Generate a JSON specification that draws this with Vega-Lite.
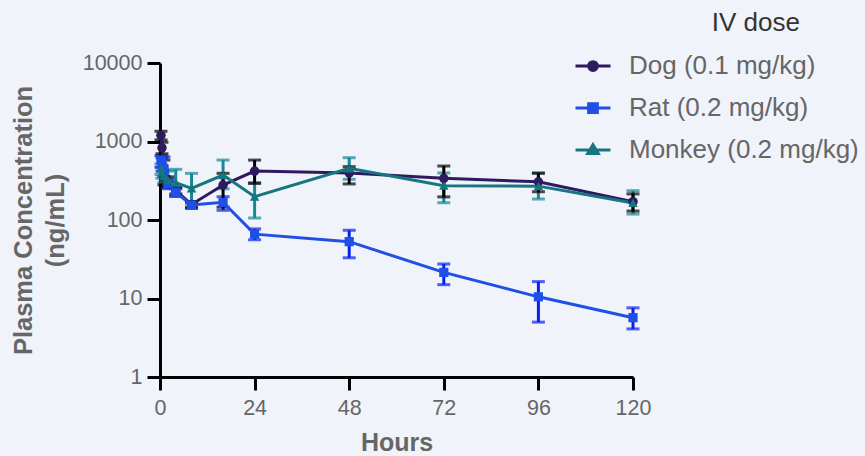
{
  "$schema": "https://vega.github.io/schema/vega-lite/v6.json",
  "width": 473,
  "height": 314,
  "autosize": "none",
  "padding": {"left": 160, "top": 63, "right": 232, "bottom": 79},
  "config": {
    "background": "#F0F3FA",
    "view": {"stroke": null},
    "font": "Liberation Sans"
  },
  "title": {"text": "IV dose", "anchor": "end", "frame": "group", "dx": 167, "fontSize": 26, "fontWeight": "normal", "color": "#333333", "offset": 11, "font": "Liberation Sans"},
  "data": {
    "values": [
      {"series": "Dog (0.1 mg/kg)", "t": 0.25, "c": 1200, "lo": 1050, "hi": 1350},
      {"series": "Dog (0.1 mg/kg)", "t": 0.5, "c": 830, "lo": 700, "hi": 980},
      {"series": "Dog (0.1 mg/kg)", "t": 1, "c": 440, "lo": 280, "hi": 580},
      {"series": "Dog (0.1 mg/kg)", "t": 2, "c": 307, "lo": 265, "hi": 355},
      {"series": "Dog (0.1 mg/kg)", "t": 4, "c": 236, "lo": 215, "hi": 260},
      {"series": "Dog (0.1 mg/kg)", "t": 8, "c": 158, "lo": 145, "hi": 172},
      {"series": "Dog (0.1 mg/kg)", "t": 16, "c": 279, "lo": 146, "hi": 393},
      {"series": "Dog (0.1 mg/kg)", "t": 24, "c": 420, "lo": 292, "hi": 580},
      {"series": "Dog (0.1 mg/kg)", "t": 48, "c": 397, "lo": 288, "hi": 478},
      {"series": "Dog (0.1 mg/kg)", "t": 72, "c": 340, "lo": 197, "hi": 487},
      {"series": "Dog (0.1 mg/kg)", "t": 96, "c": 307, "lo": 229, "hi": 394},
      {"series": "Dog (0.1 mg/kg)", "t": 120, "c": 171, "lo": 130, "hi": 215},
      {"series": "Rat (0.2 mg/kg)", "t": 0.25, "c": 580, "lo": 470, "hi": 660},
      {"series": "Rat (0.2 mg/kg)", "t": 0.5, "c": 520, "lo": 420, "hi": 620},
      {"series": "Rat (0.2 mg/kg)", "t": 1, "c": 450, "lo": 360, "hi": 640},
      {"series": "Rat (0.2 mg/kg)", "t": 2, "c": 290, "lo": 250, "hi": 330},
      {"series": "Rat (0.2 mg/kg)", "t": 4, "c": 225, "lo": 200, "hi": 250},
      {"series": "Rat (0.2 mg/kg)", "t": 8, "c": 155, "lo": 140, "hi": 170},
      {"series": "Rat (0.2 mg/kg)", "t": 16, "c": 168, "lo": 133, "hi": 198},
      {"series": "Rat (0.2 mg/kg)", "t": 24, "c": 66, "lo": 56, "hi": 77},
      {"series": "Rat (0.2 mg/kg)", "t": 48, "c": 53, "lo": 33, "hi": 74},
      {"series": "Rat (0.2 mg/kg)", "t": 72, "c": 21.5, "lo": 15, "hi": 27.5},
      {"series": "Rat (0.2 mg/kg)", "t": 96, "c": 10.5, "lo": 5, "hi": 16.4},
      {"series": "Rat (0.2 mg/kg)", "t": 120, "c": 5.7, "lo": 4.1, "hi": 7.6},
      {"series": "Monkey (0.2 mg/kg)", "t": 0.25, "c": 450, "lo": 380, "hi": 520},
      {"series": "Monkey (0.2 mg/kg)", "t": 0.5, "c": 400, "lo": 340, "hi": 470},
      {"series": "Monkey (0.2 mg/kg)", "t": 1, "c": 360, "lo": 300, "hi": 430},
      {"series": "Monkey (0.2 mg/kg)", "t": 2, "c": 330, "lo": 260, "hi": 420},
      {"series": "Monkey (0.2 mg/kg)", "t": 4, "c": 300, "lo": 200, "hi": 442},
      {"series": "Monkey (0.2 mg/kg)", "t": 8, "c": 253, "lo": 160, "hi": 393},
      {"series": "Monkey (0.2 mg/kg)", "t": 16, "c": 374, "lo": 250, "hi": 580},
      {"series": "Monkey (0.2 mg/kg)", "t": 24, "c": 198, "lo": 106, "hi": 300},
      {"series": "Monkey (0.2 mg/kg)", "t": 48, "c": 456, "lo": 330, "hi": 622},
      {"series": "Monkey (0.2 mg/kg)", "t": 72, "c": 273, "lo": 166, "hi": 398},
      {"series": "Monkey (0.2 mg/kg)", "t": 96, "c": 270, "lo": 185, "hi": 398},
      {"series": "Monkey (0.2 mg/kg)", "t": 120, "c": 165, "lo": 119, "hi": 236}
    ]
  },
  "encoding": {
    "x": {
      "field": "t", "type": "quantitative",
      "scale": {"domain": [0, 120], "nice": false, "zero": false},
      "axis": {
        "values": [0, 24, 48, 72, 96, 120], "title": "Hours", "grid": false, "labelFlush": false,
        "domainColor": "black", "domainWidth": 3, "tickColor": "black", "tickWidth": 3, "tickSize": 13,
        "labelFontSize": 21.5, "labelColor": "#666666", "labelPadding": 7,
        "titleFontSize": 25, "titleColor": "#666666", "titleFontWeight": "bold", "titlePadding": 12
      }
    }
  },
  "layer": [
    {
      "transform": [{"filter": "datum.series === 'Monkey (0.2 mg/kg)'"}],
      "mark": {"type": "errorbar", "color": "#168797", "thickness": 3, "ticks": {"thickness": 3, "size": 13}},
      "encoding": {
        "y": {"field": "lo", "type": "quantitative", "title": ["Plasma Concentration", "(ng/mL)"],
          "scale": {"type": "log", "domain": [1, 10000], "nice": false},
          "axis": {
            "values": [1, 10, 100, 1000, 10000], "format": "d", "grid": false, "titleLineHeight": 32,
            "domainColor": "black", "domainWidth": 3, "tickColor": "black", "tickWidth": 3, "tickSize": 13,
            "labelFontSize": 21.5, "labelColor": "#666666", "labelPadding": 5,
            "titleFontSize": 25.5, "titleColor": "#666666", "titleFontWeight": "bold", "titlePadding": 14
          }},
        "y2": {"field": "hi"}
      }
    },
    {
      "transform": [{"filter": "datum.series === 'Rat (0.2 mg/kg)'"}],
      "mark": {"type": "errorbar", "color": "#0A1EF0", "thickness": 3, "ticks": {"thickness": 3, "size": 13}},
      "encoding": {
        "y": {"field": "lo", "type": "quantitative", "title": ["Plasma Concentration", "(ng/mL)"]},
        "y2": {"field": "hi"}
      }
    },
    {
      "transform": [{"filter": "datum.series === 'Dog (0.1 mg/kg)'"}],
      "mark": {"type": "errorbar", "color": "#000000", "thickness": 3, "ticks": {"thickness": 3, "size": 13}},
      "encoding": {
        "y": {"field": "lo", "type": "quantitative", "title": ["Plasma Concentration", "(ng/mL)"]},
        "y2": {"field": "hi"}
      }
    },
    {
      "mark": {"type": "line", "strokeWidth": 3},
      "encoding": {
        "y": {"field": "c", "type": "quantitative", "title": ["Plasma Concentration", "(ng/mL)"]},
        "color": {
          "field": "series", "type": "nominal",
          "scale": {"domain": ["Dog (0.1 mg/kg)", "Rat (0.2 mg/kg)", "Monkey (0.2 mg/kg)"], "range": ["#2E1A5E", "#1F4FE6", "#16767F"]},
          "legend": {
            "title": null, "orient": "none", "legendX": 414, "legendY": -16,
            "padding": 0, "symbolSize": 1225, "symbolStrokeWidth": 3, "labelLimit": 400,
            "labelFontSize": 26, "labelColor": "#666666", "labelOffset": 17,
            "rowPadding": 10
          }
        }
      }
    },
    {
      "transform": [{"filter": "datum.series === 'Dog (0.1 mg/kg)'"}],
      "mark": {"type": "point", "filled": true, "opacity": 1, "size": 90, "shape": "circle"},
      "encoding": {
        "y": {"field": "c", "type": "quantitative", "title": ["Plasma Concentration", "(ng/mL)"]},
        "color": {"field": "series", "type": "nominal"}
      }
    },
    {
      "transform": [{"filter": "datum.series === 'Rat (0.2 mg/kg)'"}],
      "mark": {"type": "point", "filled": true, "opacity": 1, "size": 85, "shape": "square"},
      "encoding": {
        "y": {"field": "c", "type": "quantitative", "title": ["Plasma Concentration", "(ng/mL)"]},
        "color": {"field": "series", "type": "nominal"}
      }
    },
    {
      "transform": [{"filter": "datum.series === 'Monkey (0.2 mg/kg)'"}],
      "mark": {"type": "point", "filled": true, "opacity": 1, "size": 90, "shape": "triangle-up"},
      "encoding": {
        "y": {"field": "c", "type": "quantitative", "title": ["Plasma Concentration", "(ng/mL)"]},
        "color": {"field": "series", "type": "nominal"}
      }
    },
    {
      "mark": {"type": "point", "filled": true, "size": 0, "opacity": 0},
      "encoding": {
        "y": {"field": "c", "type": "quantitative", "title": ["Plasma Concentration", "(ng/mL)"]},
        "color": {"field": "series", "type": "nominal"},
        "shape": {
          "field": "series", "type": "nominal",
          "scale": {
            "domain": ["Dog (0.1 mg/kg)", "Rat (0.2 mg/kg)", "Monkey (0.2 mg/kg)"],
            "range": [
              "M-1,0H1M-0.25,0A0.25,0.25 0 1,0 0.25,0A0.25,0.25 0 1,0 -0.25,0Z",
              "M-1,0H1M-0.25,-0.25H0.25V0.25H-0.25Z",
              "M-1,0H1M0,-0.3L0.3,0.2L-0.3,0.2Z"
            ]
          },
          "legend": {"title": null}
        }
      }
    }
  ]
}
